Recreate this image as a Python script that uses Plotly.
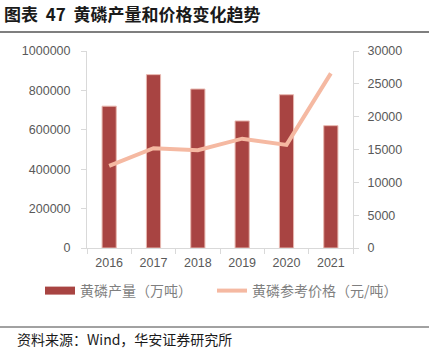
import plotly.graph_objects as go

years = ["2016", "2017", "2018", "2019", "2020", "2021"]
output = [720000, 880000, 807000, 645000, 778000, 621000]
price = [12500, 15200, 14900, 16650, 15700, 26600]
left_ticks = [0, 200000, 400000, 600000, 800000, 1000000]
right_ticks = [0, 5000, 10000, 15000, 20000, 25000, 30000]

num_font = "Liberation Sans, Arial, sans-serif"
cjk_font = "Noto Sans CJK SC, sans-serif"
grey = "#595959"
bar_color = "#A84442"
line_color = "#F5B9A2"

W, H = 429, 358
L, R, T, B = 87, 76, 51, 110
pw, ph = W - L - R, H - T - B


def px_x(x):
    return (x - L) / pw


def px_y(y):
    return (H - B - y) / ph


fig = go.Figure()
fig.add_trace(go.Bar(
    x=years, y=output, name="黄磷产量（万吨）", showlegend=False,
    marker=dict(color=bar_color, line=dict(color="#E8B8B0", width=1)),
    width=0.32, yaxis="y"))
# legend proxy so the bar legend key is a wide rectangle like the original
fig.add_trace(go.Scatter(
    x=[None], y=[None], name="黄磷产量（万吨）", mode="lines",
    line=dict(color=bar_color, width=8), yaxis="y", legend="legend"))
fig.add_trace(go.Scatter(
    x=years, y=price, name="黄磷参考价格（元/吨）", mode="lines",
    line=dict(color=line_color, width=4), yaxis="y2", legend="legend2"))

tick_font = dict(family=num_font, size=12.5, color=grey)
legend_common = dict(orientation="h", xanchor="left", y=px_y(291), yanchor="middle",
                     font=dict(family=cjk_font, size=14, color="#7F7F7F"),
                     itemwidth=30, bgcolor="rgba(0,0,0,0)")

fig.update_layout(
    width=W, height=H, autosize=False,
    margin=dict(l=L, r=R, t=T, b=B, autoexpand=False),
    plot_bgcolor="white", paper_bgcolor="white",
    showlegend=True,
    legend=dict(x=px_x(40), **legend_common),
    legend2=dict(x=px_x(212), **legend_common),
    xaxis=dict(showline=True, linecolor="#D9D9D9", linewidth=1,
               ticks="outside", tickson="boundaries", ticklen=5, tickcolor="#D9D9D9",
               ticklabelstandoff=3, tickfont=tick_font, showgrid=False),
    yaxis=dict(range=[0, 1000000], tickvals=left_ticks, tickformat="d", showline=True,
               linecolor="#D9D9D9", ticks="outside", ticklen=5, tickcolor="#D9D9D9",
               ticklabelstandoff=8, showgrid=False, zeroline=False, tickfont=tick_font),
    yaxis2=dict(range=[0, 30000], tickvals=right_ticks, tickformat="d", overlaying="y", side="right",
                showline=True, linecolor="#D9D9D9", ticks="outside", ticklen=5,
                tickcolor="#D9D9D9", ticklabelstandoff=6, showgrid=False, zeroline=False,
                tickfont=tick_font),
    bargap=0.5,
)

fig.add_annotation(text="<b>图表  47  黄磷产量和价格变化趋势</b>", xref="paper", yref="paper",
                   x=px_x(2), xanchor="left", y=px_y(13), yanchor="middle",
                   showarrow=False, font=dict(family=cjk_font, size=17, color="#1A1A1A"))
fig.add_annotation(text="资料来源：Wind，华安证券研究所", xref="paper", yref="paper",
                   x=px_x(15), xanchor="left", y=px_y(339), yanchor="middle",
                   showarrow=False, font=dict(family=cjk_font, size=14, color="#1A1A1A"))
fig.add_shape(type="line", xref="paper", yref="paper", x0=px_x(0), x1=px_x(W),
              y0=px_y(32), y1=px_y(32), line=dict(color="#555555", width=1.5))
fig.add_shape(type="line", xref="paper", yref="paper", x0=px_x(0), x1=px_x(W),
              y0=px_y(327), y1=px_y(327), line=dict(color="#444444", width=1))

fig.write_html("out.html", config={"displayModeBar": False},
               post_script="document.body.style.margin='0';")
